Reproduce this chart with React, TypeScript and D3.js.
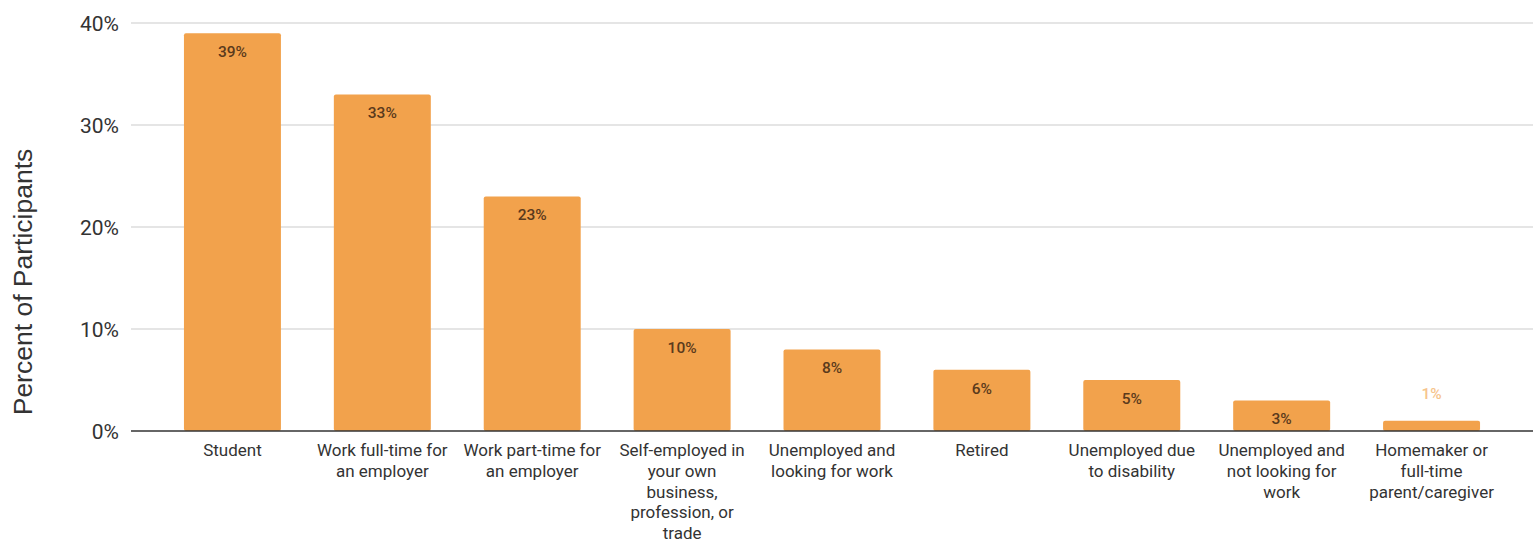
import React from "react";
import * as d3 from "d3";

const categories: string[][] = [
  ["Student"],
  ["Work full-time for", "an employer"],
  ["Work part-time for", "an employer"],
  ["Self-employed in", "your own", "business,", "profession, or", "trade"],
  ["Unemployed and", "looking for work"],
  ["Retired"],
  ["Unemployed due", "to disability"],
  ["Unemployed and", "not looking for", "work"],
  ["Homemaker or", "full-time", "parent/caregiver"],
];
const values: number[] = [39, 33, 23, 10, 8, 6, 5, 3, 1];
const yTicks: number[] = [0, 10, 20, 30, 40];
const yTitle = "Percent of Participants";

const W = 1539;
const H = 543;

export default function App() {
  const keys = categories.map((_, i) => String(i));
  const x = d3
    .scaleBand<string>()
    .domain(keys)
    .range([157.5, 1506.5])
    .paddingInner(0.353)
    .paddingOuter(0.1765);
  const y = d3.scaleLinear().domain([0, 40]).range([431, 23]);
  const plotLeft = 131;
  const plotRight = 1533;

  return (
    <svg
      width={W}
      height={H}
      style={{ position: "absolute", left: 0, top: 0, background: "#fff" }}
    >
      {yTicks.map((t) => (
        <g key={t}>
          {t !== 0 && (
            <line
              x1={plotLeft}
              x2={plotRight}
              y1={y(t)}
              y2={y(t)}
              stroke="#dcdcdc"
              strokeWidth={1.5}
            />
          )}
          <text
            x={119}
            y={y(t)}
            dy="0.36em"
            textAnchor="end"
            fontFamily="Roboto"
            fontSize={21}
            fill="#333"
          >
            {t}%
          </text>
        </g>
      ))}
      {values.map((v, i) => {
        const bx = x(String(i))!;
        const bw = x.bandwidth();
        const top = y(v);
        const h = y(0) - top;
        const small = h < 30;
        return (
          <g key={i}>
            <rect
              x={bx}
              y={top}
              width={bw}
              height={h}
              rx={2}
              fill="#F2A24C"
            />
            <text
              x={bx + bw / 2}
              y={small ? top - 22 : top + 24}
              textAnchor="middle"
              fontFamily="Roboto"
              fontWeight={500}
              fontSize={15.5}
              fill={small ? "#F6C48C" : "#5A3A1C"}
            >
              {v}%
            </text>
          </g>
        );
      })}
      <line
        x1={plotLeft}
        x2={plotRight}
        y1={y(0)}
        y2={y(0)}
        stroke="#333"
        strokeWidth={1.6}
      />
      {categories.map((lines, i) => {
        const cx = x(String(i))! + x.bandwidth() / 2;
        return (
          <text
            key={i}
            x={cx}
            y={456}
            textAnchor="middle"
            fontFamily="Roboto"
            fontSize={17}
            fill="#333"
          >
            {lines.map((l, j) => (
              <tspan key={j} x={cx} dy={j === 0 ? 0 : 20.8}>
                {l}
              </tspan>
            ))}
          </text>
        );
      })}
      <text
        transform={`translate(32,282) rotate(-90)`}
        textAnchor="middle"
        fontFamily="Liberation Sans"
        fontSize={26.5}
        fill="#333"
      >
        {yTitle}
      </text>
    </svg>
  );
}
